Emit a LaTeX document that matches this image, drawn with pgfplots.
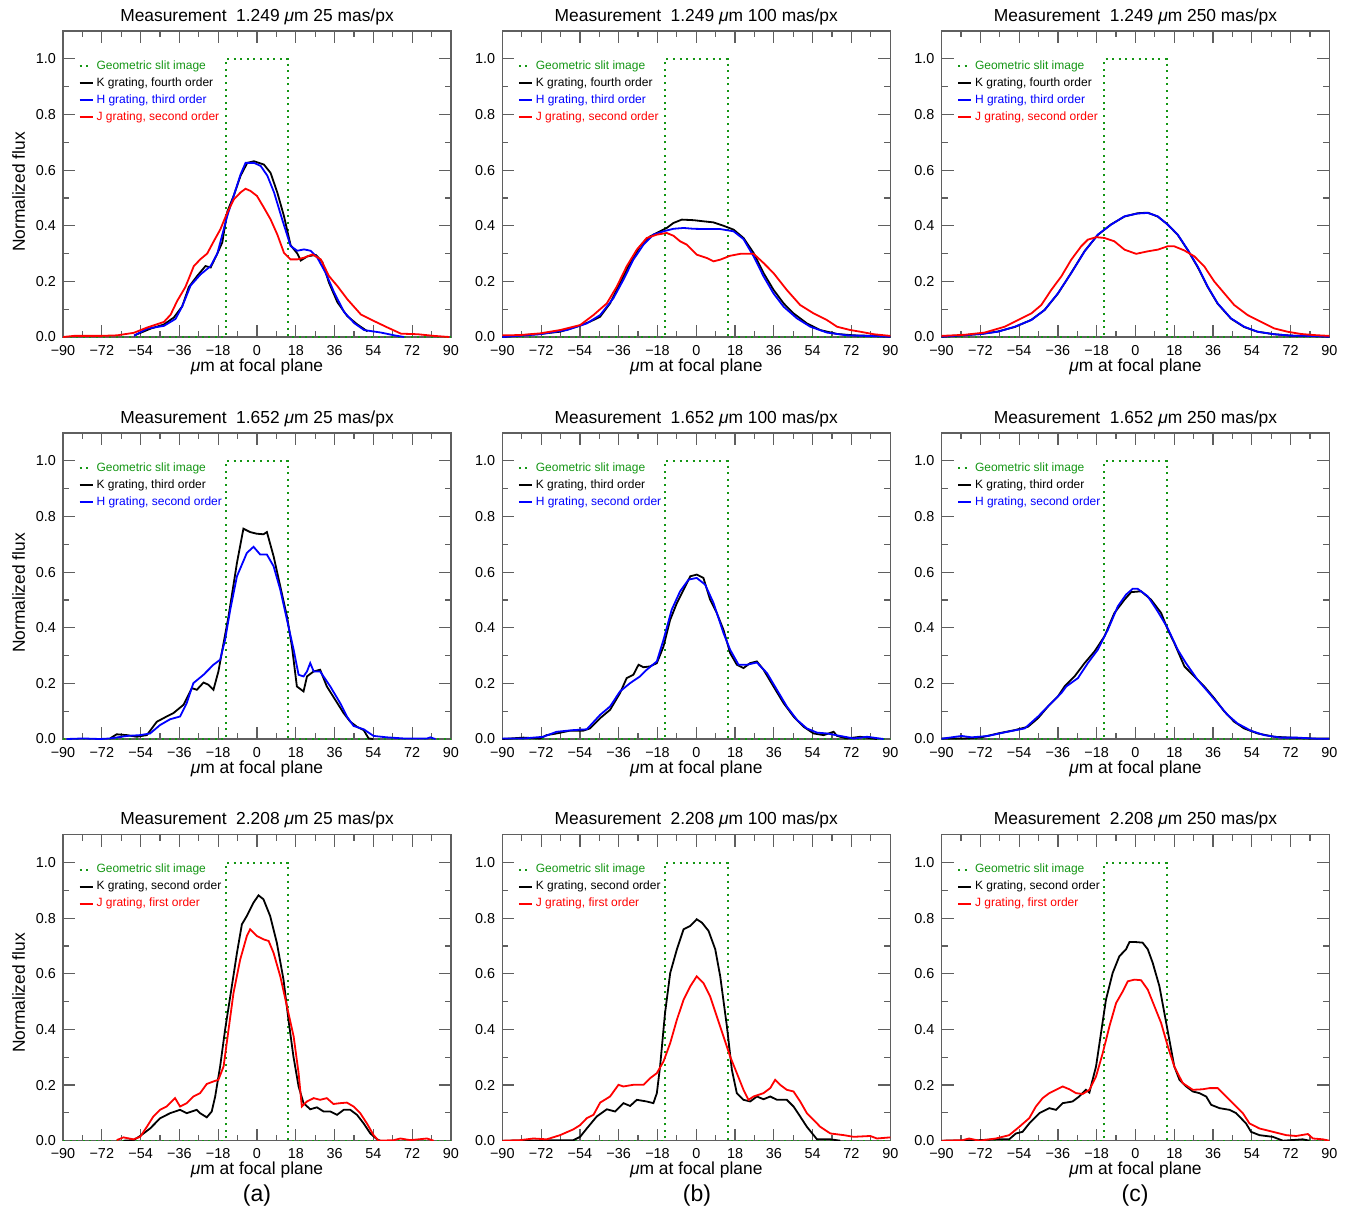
\documentclass[border=0pt]{standalone}
\usepackage{fontspec}
\setmainfont{Liberation Sans}
\usepackage{pgfplots}
\pgfplotsset{compat=1.18}
\definecolor{slitgreen}{RGB}{20,150,20}
\definecolor{framec}{RGB}{95,95,95}
\definecolor{hblue}{RGB}{0,0,255}
\definecolor{jred}{RGB}{255,0,0}
\newcommand{\fticks}{\fontsize{7.2}{8}\selectfont}
\newcommand{\flabel}{\fontsize{8.7}{10}\selectfont}
\newcommand{\fleg}{\fontsize{6}{7}\selectfont}
\pgfplotsset{
 legend image code/.code={\draw[#1] (0pt,0pt) -- (6.5pt,0pt);},
 panel/.style={
  scale only axis, width=194pt, height=153pt,
  xmin=-90,xmax=90,ymin=0,ymax=1.1,
  xtick={-90,-72,-54,-36,-18,0,18,36,54,72,90},
  xticklabels={−90,−72,−54,−36,−18,0,18,36,54,72,90},
  ytick={0,0.2,0.4,0.6,0.8,1},
  yticklabels={0.0,0.2,0.4,0.6,0.8,1.0},
  minor x tick num=1, minor y tick num=1,
  tick align=inside, tick pos=both,
  xticklabel pos=lower, yticklabel pos=left,
  major tick length=6pt, minor tick length=3pt,
  tick style={draw=framec, line width=0.6pt},
  axis line style={draw=framec, line width=0.7pt},
  tick label style={font=\fticks},
  /pgf/number format/assume math mode=true,
  xticklabel style={anchor=base, yshift=-9pt},
  title style={at={(axis description cs:0.5,1)}, anchor=base, yshift=-1pt, font=\flabel},
  xlabel={{\itshape μ}m at focal plane},
  xlabel style={at={(axis description cs:0.5,0)}, anchor=base, yshift=-17pt, font=\flabel},
  legend style={draw=none, fill=none, font=\fleg, at={(axis description cs:0.039,0.91)}, anchor=north west, inner sep=0pt, row sep=1.4pt, column sep=1pt, nodes={inner sep=0.5pt, text height=4.6pt, text depth=1.5pt}},
  legend cell align=left,
 },
 slit/.style={slitgreen, line width=1pt, dash pattern=on 1pt off 2.3pt},
 kl/.style={black, line width=0.9pt},
 hl/.style={hblue, line width=0.9pt},
 jl/.style={jred, line width=0.9pt},
}
\newcommand{\slitplot}{\addplot[slit] coordinates {(-90,0) (-14.5,0) (-14.5,1) (14.5,1) (14.5,0) (90,0)};
\addlegendentry{\textcolor{slitgreen}{Geometric slit image}}}
\begin{document}
\begin{tikzpicture}
\useasboundingbox (0,0) rectangle (675.5pt,-606pt);
% ---------------- Row 1 ----------------
\begin{axis}[panel, at={(31.5pt,-168.5pt)}, anchor=south west,
  title={Measurement\hspace{0.55em}1.249 {\itshape μ}m 25 mas/px}]
\slitplot
\addplot[kl] coordinates {(-57,0.005) (-55.6,0.01) (-49.4,0.03) (-43.2,0.045) (-38.6,0.07) (-34.7,0.11) (-31.6,0.18) (-27.7,0.22) (-23.9,0.255) (-21.5,0.25) (-18.4,0.30) (-16.1,0.34) (-13.8,0.45) (-10.7,0.51) (-7.6,0.58) (-4.5,0.626) (-1.4,0.632) (3.2,0.62) (6.3,0.59) (9.4,0.52) (12.5,0.435) (15.6,0.33) (18.7,0.30) (20.3,0.275) (23.4,0.29) (27.3,0.295) (30.3,0.27) (33.4,0.195) (37.3,0.125) (41.9,0.075) (46.6,0.045) (51.3,0.02)};
\addlegendentry{\textcolor{black}{K grating, fourth order}}
\addplot[hl] coordinates {(-57,0.005) (-51,0.03) (-43.2,0.04) (-37.8,0.065) (-34.7,0.11) (-30.8,0.185) (-26.2,0.225) (-21.5,0.255) (-18.4,0.30) (-13.8,0.435) (-10.7,0.51) (-7.6,0.585) (-5.3,0.626) (-1.4,0.626) (1.7,0.615) (4.8,0.58) (7.9,0.52) (11.8,0.42) (15.6,0.327) (18.7,0.31) (21.8,0.315) (24.9,0.31) (28.0,0.285) (31.9,0.23) (35.8,0.16) (40.4,0.09) (45.1,0.05) (49.7,0.025) (57.5,0.016) (63.7,0.006) (68.3,0)};
\addlegendentry{\textcolor{hblue}{H grating, third order}}
\addplot[jl] coordinates {(-90,0) (-85,0.004) (-72.6,0.004) (-64.9,0.006) (-57.2,0.015) (-51,0.034) (-43.2,0.054) (-40.1,0.08) (-37,0.13) (-33.2,0.18) (-29.3,0.255) (-26.2,0.28) (-23.1,0.30) (-20,0.345) (-17,0.387) (-13.8,0.447) (-10.7,0.495) (-7.6,0.52) (-5.3,0.533) (-3,0.525) (0,0.507) (3.2,0.465) (6.3,0.423) (9.4,0.369) (12.5,0.303) (15.6,0.279) (18.7,0.279) (21.8,0.285) (25.7,0.297) (29.6,0.279) (33.4,0.219) (37.3,0.183) (42,0.135) (48.2,0.081) (54.4,0.057) (60.6,0.034) (66.8,0.012) (74.5,0.01) (82.2,0.004) (89.2,0)};
\addlegendentry{\textcolor{jred}{J grating, second order}}
\end{axis}
\begin{axis}[panel, at={(251.15pt,-168.5pt)}, anchor=south west,
  title={Measurement\hspace{0.55em}1.249 {\itshape μ}m 100 mas/px}]
\slitplot
\addplot[kl] coordinates {(-90,0) (-81.8,0.006) (-72.5,0.011) (-63.2,0.019) (-55.5,0.037) (-49.3,0.055) (-44.6,0.073) (-40,0.121) (-35.4,0.194) (-30.7,0.266) (-26.1,0.326) (-21.4,0.362) (-16.8,0.38) (-13.7,0.392) (-10.6,0.41) (-6.7,0.422) (-1.3,0.42) (3.3,0.416) (8,0.412) (12.6,0.4) (17.3,0.386) (21.9,0.356) (26.6,0.302) (31.2,0.23) (35.8,0.17) (40.5,0.121) (45.1,0.085) (51.3,0.049) (57.5,0.025) (65.3,0.011) (73,0.006) (82.3,0.004) (90,0.001)};
\addlegendentry{\textcolor{black}{K grating, fourth order}}
\addplot[hl] coordinates {(-90,0) (-72.5,0.01) (-60.1,0.025) (-50.8,0.049) (-44.6,0.079) (-38.5,0.139) (-33.8,0.206) (-29.2,0.278) (-24.5,0.332) (-19.9,0.368) (-15.2,0.38) (-10.6,0.389) (-5.9,0.392) (-1.3,0.389) (4.9,0.388) (11.1,0.388) (17.3,0.38) (21.9,0.352) (26.6,0.29) (31.2,0.218) (35.8,0.157) (40.5,0.109) (46.7,0.067) (52.9,0.037) (60.6,0.016) (69.9,0.006) (79.2,0.004) (90,0.001)};
\addlegendentry{\textcolor{hblue}{H grating, third order}}
\addplot[jl] coordinates {(-90,0.006) (-81.8,0.007) (-72.5,0.013) (-63.2,0.025) (-53.9,0.043) (-47.7,0.079) (-41.5,0.121) (-36.9,0.181) (-32.3,0.254) (-27.6,0.314) (-23,0.356) (-18.3,0.368) (-13.7,0.374) (-10.6,0.364) (-7.5,0.344) (-4.4,0.332) (0.2,0.296) (4.9,0.284) (8,0.272) (11.1,0.278) (15.7,0.292) (20.4,0.299) (26.6,0.299) (31.2,0.266) (35.8,0.23) (42,0.169) (48.2,0.115) (54.4,0.085) (60.6,0.061) (65.3,0.037) (71.5,0.025) (76.1,0.019) (82.3,0.01) (90,0.004)};
\addlegendentry{\textcolor{jred}{J grating, second order}}
\end{axis}
\begin{axis}[panel, at={(470.75pt,-168.5pt)}, anchor=south west,
  title={Measurement\hspace{0.55em}1.249 {\itshape μ}m 250 mas/px}]
\slitplot
\addplot[kl] coordinates {(-90,0.001) (-80.7,0.006) (-71.5,0.011) (-63.8,0.02) (-56,0.036) (-48.3,0.062) (-42.2,0.097) (-36,0.156) (-29.8,0.231) (-23.6,0.309) (-17.5,0.367) (-11.3,0.405) (-5.1,0.433) (1,0.445) (5.7,0.447) (10.3,0.433) (14.9,0.405) (19.6,0.367) (24.2,0.313) (28.8,0.252) (33.5,0.18) (38.1,0.12) (44.3,0.066) (50.4,0.036) (56.6,0.019) (64.3,0.01) (72,0.005) (81.3,0.004) (90,0.001)};
\addlegendentry{\textcolor{black}{K grating, fourth order}}
\addplot[hl] coordinates {(-90,0.001) (-80.7,0.006) (-71.5,0.011) (-63.8,0.019) (-56,0.037) (-48.3,0.061) (-42.2,0.097) (-36,0.157) (-29.8,0.23) (-23.6,0.308) (-17.5,0.368) (-11.3,0.404) (-5.1,0.434) (1,0.444) (5.7,0.446) (10.3,0.434) (14.9,0.404) (19.6,0.368) (24.2,0.314) (28.8,0.254) (33.5,0.181) (38.1,0.121) (44.3,0.067) (50.4,0.037) (56.6,0.019) (64.3,0.01) (72,0.005) (81.3,0.004) (90,0.001)};
\addlegendentry{\textcolor{hblue}{H grating, third order}}
\addplot[jl] coordinates {(-90,0.004) (-79.2,0.008) (-70,0.016) (-60.7,0.037) (-54.5,0.061) (-48.3,0.085) (-43.7,0.115) (-39.1,0.169) (-34.4,0.218) (-29.8,0.278) (-25.2,0.326) (-22.1,0.35) (-18.2,0.359) (-14.4,0.356) (-9.8,0.344) (-5.1,0.314) (0.3,0.299) (5.7,0.308) (10.3,0.314) (14.9,0.326) (18,0.326) (22.7,0.311) (27.3,0.29) (31.9,0.254) (36.5,0.2) (41.2,0.157) (45.8,0.115) (52,0.079) (58.1,0.055) (64.3,0.031) (70.5,0.019) (76.7,0.011) (82.8,0.007) (90,0.004)};
\addlegendentry{\textcolor{jred}{J grating, second order}}
\end{axis}
% ---------------- Row 2 ----------------
\begin{axis}[panel, at={(31.5pt,-369.5pt)}, anchor=south west,
  title={Measurement\hspace{0.55em}1.652 {\itshape μ}m 25 mas/px}]
\slitplot
\addplot[kl] coordinates {(-68.2,0.002) (-65.1,0.017) (-60.4,0.014) (-55.8,0.008) (-51.1,0.014) (-46.5,0.062) (-41.9,0.081) (-38.8,0.093) (-34.1,0.123) (-30.2,0.183) (-27.9,0.177) (-24.8,0.203) (-22.5,0.195) (-20.2,0.177) (-17.9,0.243) (-15.5,0.345) (-13.2,0.441) (-9.3,0.633) (-6.3,0.756) (-3.2,0.744) (-0.1,0.738) (3,0.736) (4.6,0.744) (7.7,0.657) (10.8,0.549) (13.9,0.441) (16.2,0.333) (18.5,0.189) (21.6,0.171) (23.2,0.225) (26.3,0.243) (29.3,0.249) (32.4,0.189) (36.3,0.141) (40.2,0.093) (43.3,0.062) (46.4,0.044) (49.5,0.032) (51.8,0.002) (54,0)};
\addlegendentry{\textcolor{black}{K grating, third order}}
\addplot[hl] coordinates {(-88.3,0) (-80.6,0.002) (-72.8,0) (-68.2,0.002) (-60.4,0.011) (-54.2,0.014) (-49.6,0.02) (-45,0.05) (-40.3,0.071) (-35.7,0.081) (-32.6,0.129) (-29.5,0.201) (-24.8,0.231) (-20.2,0.267) (-17.1,0.285) (-14.8,0.357) (-12.4,0.465) (-9.3,0.585) (-4.7,0.669) (-1.6,0.691) (1.5,0.663) (4.6,0.663) (7.7,0.621) (10.8,0.537) (13.9,0.429) (17,0.321) (19.3,0.231) (21.6,0.225) (23.2,0.243) (24.7,0.273) (26.3,0.243) (29.3,0.243) (34,0.189) (38.6,0.129) (41.7,0.081) (44.8,0.047) (49.5,0.035) (54.1,0.011) (60.3,0.006) (68,0.002) (78.9,0.002) (80.4,0.006) (82.8,0)};
\addlegendentry{\textcolor{hblue}{H grating, second order}}
\end{axis}
\begin{axis}[panel, at={(251.15pt,-369.5pt)}, anchor=south west,
  title={Measurement\hspace{0.55em}1.652 {\itshape μ}m 100 mas/px}]
\slitplot
\addplot[kl] coordinates {(-90,0) (-86,0.002) (-80.2,0.005) (-72.5,0.002) (-69.4,0.014) (-64.8,0.02) (-58.6,0.03) (-52.4,0.03) (-49.3,0.038) (-44.6,0.075) (-40,0.105) (-35.4,0.165) (-32.3,0.219) (-29.2,0.231) (-26.8,0.267) (-24.5,0.258) (-21.4,0.261) (-18.3,0.273) (-15.2,0.333) (-12.1,0.429) (-9,0.489) (-5.9,0.537) (-2.8,0.585) (0.2,0.591) (3.3,0.579) (6.4,0.501) (9.5,0.453) (12.6,0.393) (15.7,0.309) (18.8,0.267) (21.9,0.255) (25,0.273) (28.1,0.279) (31.2,0.249) (35.8,0.189) (40.5,0.129) (45.1,0.081) (49.8,0.044) (54.4,0.02) (59.1,0.014) (63.7,0.026) (65.3,0.011) (69.9,0.002) (76.1,0.008) (83.8,0)};
\addlegendentry{\textcolor{black}{K grating, third order}}
\addplot[hl] coordinates {(-90,0.002) (-80.2,0.002) (-71,0.008) (-64.8,0.026) (-57,0.032) (-50.8,0.035) (-44.6,0.087) (-40,0.117) (-35.4,0.171) (-30.7,0.201) (-26.1,0.225) (-23,0.249) (-18.3,0.279) (-15.2,0.357) (-11.4,0.465) (-7.5,0.531) (-3.6,0.573) (0.2,0.579) (4.1,0.555) (8,0.489) (12.6,0.381) (15.7,0.321) (19.6,0.267) (23.5,0.267) (28.1,0.275) (32.8,0.237) (37.4,0.177) (42,0.117) (46.7,0.069) (51.3,0.038) (56,0.023) (60.6,0.02) (66.8,0.011) (73,0.002) (79.2,0.008) (86.9,0)};
\addlegendentry{\textcolor{hblue}{H grating, second order}}
\end{axis}
\begin{axis}[panel, at={(470.75pt,-369.5pt)}, anchor=south west,
  title={Measurement\hspace{0.55em}1.652 {\itshape μ}m 250 mas/px}]
\slitplot
\addplot[kl] coordinates {(-90,0.002) (-79.2,0.002) (-71.5,0.006) (-63.8,0.02) (-56,0.032) (-49.9,0.044) (-45.2,0.075) (-40.6,0.117) (-36,0.153) (-32.9,0.189) (-28.3,0.225) (-23.6,0.273) (-19,0.315) (-14.4,0.369) (-9.8,0.453) (-5.1,0.501) (-2,0.528) (2.6,0.531) (7.2,0.501) (11.9,0.453) (15,0.393) (18,0.345) (22.7,0.261) (27.3,0.225) (31.9,0.189) (36.5,0.147) (41.2,0.099) (45.8,0.062) (50.4,0.038) (56.6,0.02) (64.3,0.008) (72,0.005) (81.3,0.002) (90,0.002)};
\addlegendentry{\textcolor{black}{K grating, third order}}
\addplot[hl] coordinates {(-90,0.001) (-80.7,0.011) (-76,0.006) (-68.4,0.011) (-60.7,0.024) (-51.4,0.038) (-45.2,0.081) (-39.1,0.129) (-34.4,0.165) (-32.1,0.189) (-26.7,0.219) (-22.1,0.273) (-17.5,0.321) (-12.8,0.393) (-8.2,0.477) (-4.4,0.519) (-1.3,0.54) (1,0.54) (5.7,0.513) (10.3,0.459) (14.9,0.399) (19.6,0.321) (23.4,0.273) (28.8,0.213) (33.5,0.171) (38.1,0.129) (42.7,0.087) (47.3,0.056) (53.5,0.03) (59.7,0.014) (67.4,0.005) (75.1,0.005) (84.4,0.001) (90,0.001)};
\addlegendentry{\textcolor{hblue}{H grating, second order}}
\end{axis}
% ---------------- Row 3 ----------------
\begin{axis}[panel, at={(31.5pt,-570.35pt)}, anchor=south west,
  title={Measurement\hspace{0.55em}2.208 {\itshape μ}m 25 mas/px}]
\slitplot
\addplot[kl] coordinates {(-62,0) (-57.3,0.002) (-54.2,0.017) (-49.6,0.044) (-44.9,0.081) (-40.3,0.099) (-35.7,0.111) (-32.6,0.099) (-28,0.111) (-26.4,0.099) (-23.3,0.084) (-21,0.105) (-19.4,0.159) (-17.1,0.267) (-14.8,0.399) (-12.4,0.519) (-9.3,0.675) (-7,0.778) (-4.7,0.808) (-1.6,0.856) (0.7,0.882) (3,0.868) (6.1,0.808) (9.2,0.712) (12.3,0.579) (14.6,0.435) (16.9,0.303) (19.3,0.195) (21.6,0.135) (24.7,0.113) (27.8,0.12) (30.9,0.105) (34,0.105) (37.1,0.093) (40.2,0.111) (43.3,0.111) (46.4,0.093) (49.5,0.062) (52.6,0.026) (55.7,0.005) (57.2,0)};
\addlegendentry{\textcolor{black}{K grating, second order}}
\addplot[jl] coordinates {(-65.1,0.002) (-62,0.012) (-57.3,0.005) (-54.2,0.014) (-51.1,0.05) (-48.1,0.087) (-45,0.111) (-41.9,0.123) (-39.6,0.141) (-38,0.153) (-35.7,0.123) (-32.6,0.135) (-29.5,0.159) (-26.4,0.171) (-23.3,0.204) (-20.2,0.213) (-17.9,0.219) (-15.5,0.267) (-13.2,0.399) (-10.9,0.531) (-7.8,0.651) (-4.7,0.736) (-3.2,0.76) (-0.1,0.736) (3,0.724) (5.4,0.718) (7.7,0.675) (10.8,0.591) (13.9,0.483) (17,0.375) (19.3,0.243) (20.8,0.123) (23.2,0.141) (26.3,0.153) (29.3,0.147) (32.4,0.153) (35.5,0.132) (38.6,0.135) (41.7,0.137) (44.8,0.123) (47.9,0.099) (51,0.062) (54.1,0.02) (56.4,0) (63.4,0.002) (66.5,0.008) (71.2,0.002) (78.9,0.008) (82,0)};
\addlegendentry{\textcolor{jred}{J grating, first order}}
\end{axis}
\begin{axis}[panel, at={(251.15pt,-570.35pt)}, anchor=south west,
  title={Measurement\hspace{0.55em}2.208 {\itshape μ}m 100 mas/px}]
\slitplot
\addplot[kl] coordinates {(-90,0) (-57,0.002) (-53.9,0.014) (-50.8,0.044) (-46.2,0.087) (-41.5,0.113) (-37.7,0.105) (-33.8,0.135) (-30.7,0.125) (-27.6,0.147) (-23,0.141) (-19.9,0.135) (-18.3,0.171) (-16.8,0.267) (-14.5,0.459) (-12.1,0.603) (-9,0.688) (-5.9,0.76) (-2.8,0.772) (0.2,0.796) (2.6,0.784) (5.7,0.754) (8.8,0.688) (11.1,0.591) (14.2,0.411) (16.5,0.255) (18.8,0.171) (21.9,0.147) (25,0.141) (28.1,0.159) (31.2,0.149) (34.3,0.159) (37.4,0.147) (42,0.147) (45.1,0.123) (48.2,0.087) (51.3,0.05) (56,0.005) (62.2,0.005) (66.8,0)};
\addlegendentry{\textcolor{black}{K grating, second order}}
\addplot[jl] coordinates {(-90,0) (-81.8,0.002) (-75.6,0.008) (-69.4,0.005) (-63.2,0.02) (-57,0.041) (-53.9,0.056) (-50.8,0.081) (-47.7,0.093) (-44.6,0.137) (-40,0.159) (-36.1,0.201) (-33.8,0.195) (-29.2,0.201) (-24.5,0.201) (-21.4,0.225) (-18.3,0.243) (-15.2,0.285) (-12.1,0.351) (-9,0.435) (-5.9,0.507) (-2.8,0.555) (0.2,0.591) (3.3,0.567) (6.4,0.519) (9.5,0.447) (12.6,0.375) (15.7,0.303) (18.8,0.243) (21.9,0.183) (24.2,0.147) (26.6,0.159) (31.2,0.171) (34.3,0.189) (36.6,0.219) (38.9,0.201) (42,0.183) (45.1,0.177) (48.2,0.141) (51.3,0.099) (54.4,0.075) (57.5,0.05) (62.2,0.026) (68.4,0.02) (73,0.014) (80.7,0.017) (83.8,0.008) (90,0.012)};
\addlegendentry{\textcolor{jred}{J grating, first order}}
\end{axis}
\begin{axis}[panel, at={(470.75pt,-570.35pt)}, anchor=south west,
  title={Measurement\hspace{0.55em}2.208 {\itshape μ}m 250 mas/px}]
\slitplot
\addplot[kl] coordinates {(-90,0) (-72.5,0.002) (-64.8,0.005) (-58.6,0.005) (-55.5,0.026) (-52.4,0.032) (-49.3,0.062) (-44.6,0.099) (-40,0.117) (-36.9,0.111) (-33.8,0.135) (-29.2,0.141) (-26.1,0.159) (-23,0.183) (-21.4,0.173) (-19.9,0.219) (-18.3,0.267) (-16,0.387) (-13.7,0.507) (-10.6,0.603) (-7.5,0.663) (-4.4,0.688) (-2.8,0.714) (0.3,0.714) (3.3,0.712) (5.7,0.688) (8,0.639) (11.1,0.555) (13.4,0.459) (15.7,0.363) (18,0.267) (20.4,0.219) (23.5,0.195) (26.6,0.177) (29.7,0.171) (32.8,0.159) (35.1,0.129) (39,0.117) (43.6,0.111) (46.7,0.099) (51.3,0.062) (53.6,0.032) (57.5,0.02) (63.7,0.014) (68.4,0) (77.6,0.005) (80.7,0)};
\addlegendentry{\textcolor{black}{K grating, second order}}
\addplot[jl] coordinates {(-90,0) (-80.2,0.002) (-77.2,0.008) (-72.5,0) (-64.8,0.008) (-58.6,0.02) (-53.9,0.05) (-49.3,0.081) (-46.2,0.123) (-43.1,0.153) (-40,0.171) (-36.9,0.183) (-33.8,0.195) (-30.7,0.185) (-27.6,0.171) (-24.5,0.168) (-21.4,0.183) (-18.3,0.231) (-15.2,0.315) (-12.1,0.411) (-9,0.495) (-5.9,0.537) (-3.6,0.573) (-0.5,0.579) (2.6,0.577) (5.7,0.543) (8.8,0.483) (11.9,0.423) (15,0.339) (18,0.267) (21.9,0.207) (26.6,0.183) (31.2,0.185) (34.3,0.189) (38.2,0.189) (41.3,0.165) (45.1,0.135) (49.8,0.099) (52.9,0.062) (57.5,0.044) (63.7,0.032) (69.9,0.02) (74.5,0.017) (80,0.024) (82.3,0.008) (86.9,0.005) (90,0)};
\addlegendentry{\textcolor{jred}{J grating, first order}}
\end{axis}
% ---------------- outer labels ----------------
\foreach \yy in {-96,-296.5,-496.5}{
  \node[rotate=90, anchor=base, font=\flabel, inner sep=0pt] at (12.5pt,\yy pt) {Normalized flux};
}
\node[anchor=base, font=\fontsize{11.5}{13}\selectfont] at (128.5pt,-600.5pt) {(a)};
\node[anchor=base, font=\fontsize{11.5}{13}\selectfont] at (348.5pt,-600.5pt) {(b)};
\node[anchor=base, font=\fontsize{11.5}{13}\selectfont] at (567.5pt,-600.5pt) {(c)};
\end{tikzpicture}
\end{document}
